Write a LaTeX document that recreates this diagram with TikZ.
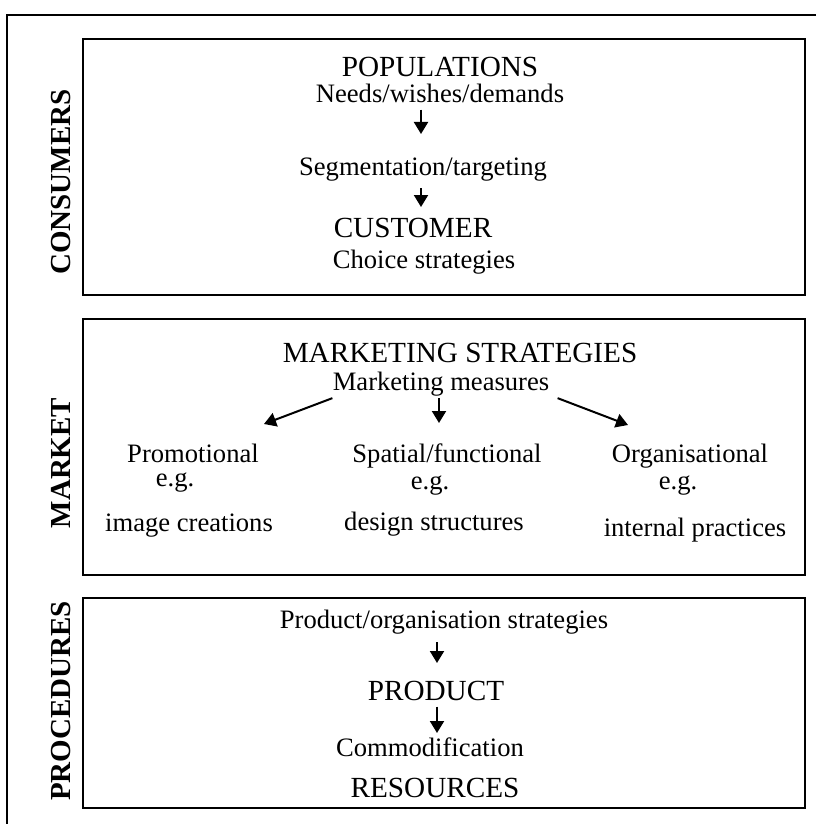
\documentclass[tikz,border=0pt]{standalone}
\usepackage{fontspec}
\setmainfont{Liberation Serif}
\usetikzlibrary{arrows.meta}

\begin{document}
\begin{tikzpicture}[x=0.5pt,y=-0.5pt,
        big/.style={inner sep=0pt,anchor=base,font=\fontsize{14.6}{16}\selectfont},
        small/.style={inner sep=0pt,anchor=base,font=\fontsize{13.3}{15}\selectfont},
        side/.style={inner sep=1pt,rotate=90,font=\fontsize{14.5}{16}\selectfont\bfseries},
        arr/.style={-{Triangle[length=6pt,width=7pt]},line width=1pt},
        box/.style={line width=1.1pt}]
        \useasboundingbox (0,0) rectangle (816,824);
        \draw[line width=1pt] (816,15) -- (7,15) -- (7,824);
        \draw[box] (83,39) rectangle (805,295);
        \draw[box] (83,319) rectangle (805,575);
        \draw[box] (83,598) rectangle (805,808);
        % side labels
        \node[side](cons)at(61,182){CONSUMERS};
        \node[side](mark)at(61,463){MARKET};
        \node[side](proc)at(61,701){PROCEDURES};
        % consumers
        \node[big](pop)at(440,76){POPULATIONS};
        \node[small](needs)at(440,103){Needs/wishes/demands};
        \node[small](segm)at(423,176){Segmentation/targeting};
        \node[big](cust)at(413,237){CUSTOMER};
        \node[small](choice)at(424,268){Choice strategies};
        \coordinate(t1)at(421,134);
        \coordinate(t2)at(421,207);
        \draw[arr]([yshift=-3pt]needs.south-|t1)--(t1);
        \draw[arr]([yshift=-3pt]segm.south-|t2)--(t2);
        % market
        \node[big](strat)at(460,362){MARKETING STRATEGIES};
        \node[small](meas)at(441,390){Marketing measures};
        \node[small](promo)at(193,462){Promotional};
        \node[small](eg1)at(175,486){e.g.};
        \node[small](image)at(189,531){image creations};
        \node[small](spat)at(447,462){Spatial/functional};
        \node[small](eg2)at(430,489){e.g.};
        \node[small](design)at(434,530){design structures};
        \node[small](organ)at(690,462){Organisational};
        \node[small](eg3)at(678,489){e.g.};
        \node[small](intern)at(695,536){internal practices};
        \coordinate(tl)at(264,424);
        \coordinate(tm)at(439,423);
        \coordinate(tr)at(628,425);
        \draw[arr]([yshift=-1pt]meas.south west)--(tl);
        \draw[arr]([yshift=-1pt]meas.south-|tm)--(tm);
        \draw[arr]([xshift=4pt,yshift=-1pt]meas.south east)--(tr);
        % procedures
        \node[small](prodorg)at(444,628){Product/organisation strategies};
        \node[big](prod)at(436,700){PRODUCT};
        \node[small](commod)at(430,756){Commodification};
        \node[big](res)at(435,797){RESOURCES};
        \coordinate(t3)at(437,663);
        \coordinate(t4)at(437,733);
        \draw[arr]([yshift=-4pt]prodorg.south-|t3)--(t3);
        \draw[arr]([yshift=-3pt]prod.south-|t4)--(t4);
\end{tikzpicture}
\end{document}
